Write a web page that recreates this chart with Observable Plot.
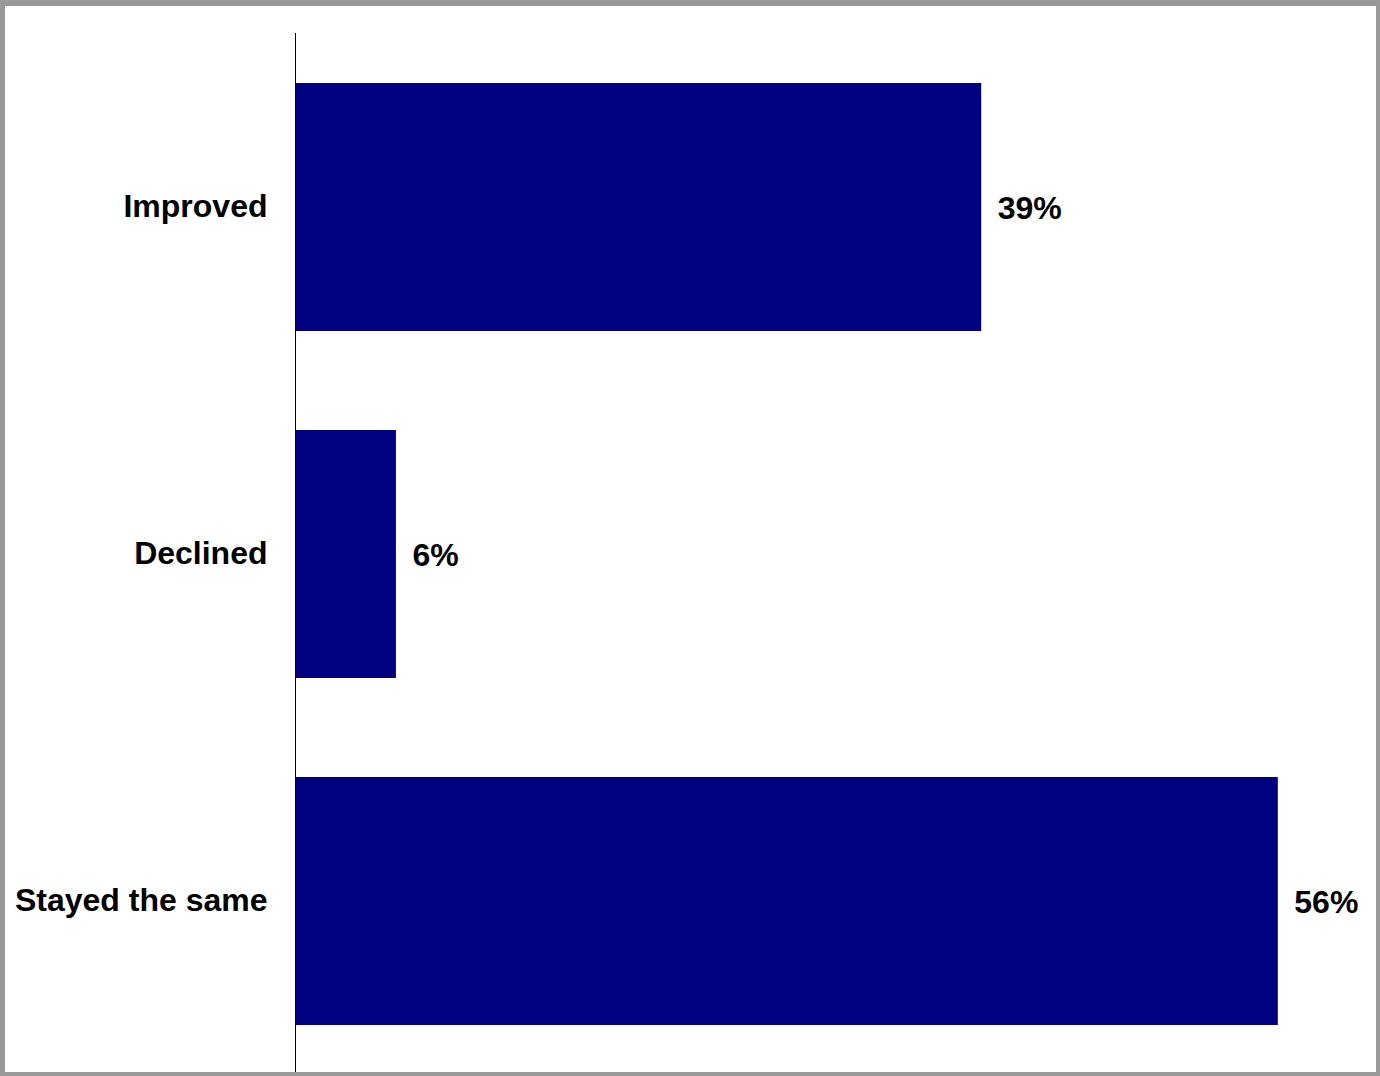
<!DOCTYPE html>
<html>
<head>
<meta charset="utf-8">
<script src="https://cdn.jsdelivr.net/npm/d3@7"></script>
<script src="https://cdn.jsdelivr.net/npm/@observablehq/plot@0.6"></script>
<style>
  html, body { margin: 0; padding: 0; background: #fff; }
  #wrap { position: relative; width: 1380px; height: 1076px; overflow: hidden; }
  #frame { position: absolute; left: 0; top: 0; width: 1380px; height: 1076px; box-sizing: border-box;
    border-style: solid; border-color: #999; border-width: 6px 4px 4px 5px; pointer-events: none; }
  svg { display: block; }
  svg text { font-family: "Liberation Sans", Arial, sans-serif !important; }
</style>
</head>
<body>
<div id="wrap"><div id="frame"></div></div>
<script>
const categories = ["Improved", "Declined", "Stayed the same"];
const values = [39.1, 5.75, 56];
const labels = ["39%", "6%", "56%"];

const data = categories.map((c, i) => ({category: c, value: values[i], label: labels[i]}));
const FONT = "'Liberation Sans', Arial, sans-serif";

const chart = Plot.plot({
  width: 1380,
  height: 1076,
  marginLeft: 295,
  marginRight: 32,
  marginTop: 33,
  marginBottom: 1,
  style: {fontFamily: FONT, background: "transparent"},
  x: {domain: [0, 60], axis: null},
  y: {domain: categories, paddingInner: 0.285, paddingOuter: 0.1425, axis: null},
  marks: [
    Plot.barX(data, {x: "value", y: "category", fill: "#000080"}),
    Plot.axisY({tickSize: 0, tickPadding: 28, dy: -1, fontSize: 32, fontWeight: "bold", fontFamily: FONT, fill: "#000", label: null}),
    Plot.text(data, {x: "value", y: "category", text: "label", textAnchor: "start", dx: 16, dy: 1,
      fontSize: 32, fontWeight: "bold", fontFamily: FONT, fill: "#000"}),
    Plot.ruleX([0], {stroke: "#000", strokeWidth: 1})
  ]
});
document.getElementById("wrap").insertBefore(chart, document.getElementById("frame"));
</script>
</body>
</html>
